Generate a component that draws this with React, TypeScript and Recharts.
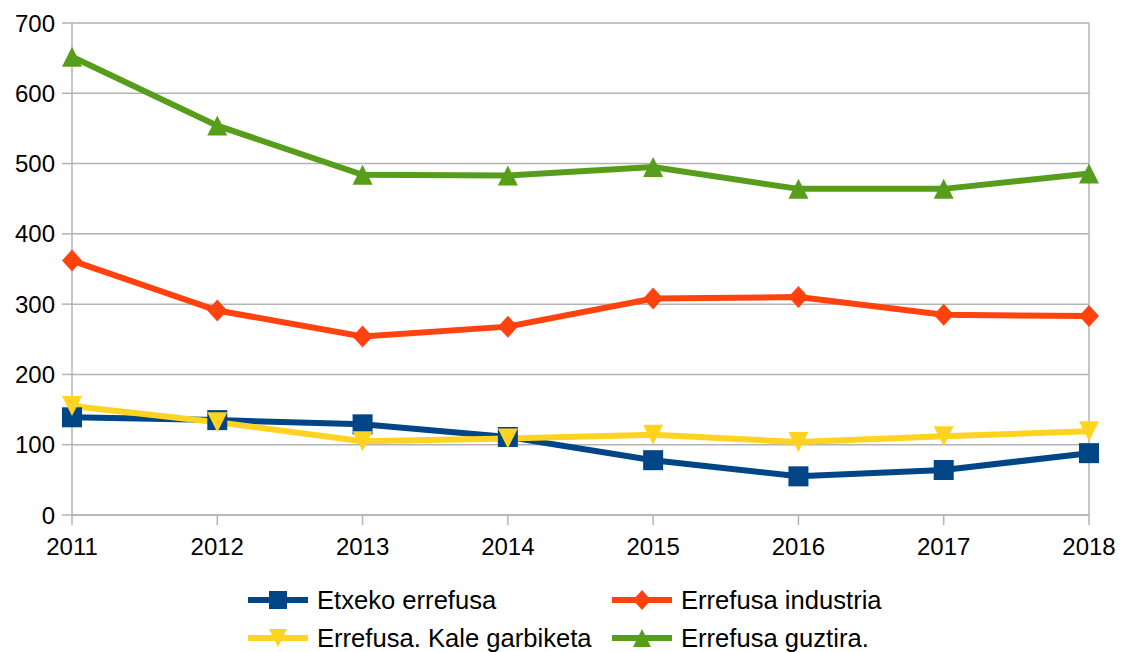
import React from 'react';
import { LineChart, Line, XAxis, YAxis, CartesianGrid, Legend, ReferenceLine } from 'recharts';

const years = ['2011', '2012', '2013', '2014', '2015', '2016', '2017', '2018'];
const etxeko = [139, 135, 129, 111, 78, 55, 64, 88];
const industria = [362, 291, 254, 268, 308, 310, 285, 283];
const kale = [155, 132, 105, 109, 114, 104, 112, 119];
const guztira = [652, 554, 484, 483, 495, 464, 464, 486];
const yTicks = [0, 100, 200, 300, 400, 500, 600, 700];

const data = years.map((year, i) => ({
  year,
  etxeko: etxeko[i],
  industria: industria[i],
  kale: kale[i],
  guztira: guztira[i],
}));

const FONT = '"Liberation Sans", Arial, sans-serif';
const GRID = '#b3b3b3';

type Shape = 'square' | 'diamond' | 'down' | 'up';

const series: { key: string; name: string; color: string; shape: Shape }[] = [
  { key: 'etxeko', name: 'Etxeko errefusa', color: '#004586', shape: 'square' },
  { key: 'industria', name: 'Errefusa industria', color: '#ff420e', shape: 'diamond' },
  { key: 'kale', name: 'Errefusa. Kale garbiketa', color: '#ffd320', shape: 'down' },
  { key: 'guztira', name: 'Errefusa guztira.', color: '#579d1c', shape: 'up' },
];

function marker(shape: Shape, cx: number, cy: number, color: string, s: number) {
  const h = s / 2;
  if (shape === 'square') return <rect x={cx - h} y={cy - h} width={s} height={s} fill={color} />;
  if (shape === 'diamond')
    return <polygon points={`${cx},${cy - h - 1} ${cx + h},${cy} ${cx},${cy + h + 1} ${cx - h},${cy}`} fill={color} />;
  if (shape === 'down')
    return <polygon points={`${cx - h},${cy - h} ${cx + h},${cy - h} ${cx},${cy + h}`} fill={color} />;
  return <polygon points={`${cx - h},${cy + h} ${cx + h},${cy + h} ${cx},${cy - h}`} fill={color} />;
}

function makeDot(shape: Shape, color: string) {
  return (props: any) => {
    const { cx, cy, index } = props;
    if (cx == null || cy == null) return <g key={index} />;
    return <g key={`${shape}-${index}`}>{marker(shape, cx, cy, color, 20)}</g>;
  };
}

function LegendBox() {
  const pos = [
    { x: 248, y: 40 },
    { x: 612, y: 40 },
    { x: 248, y: 78 },
    { x: 612, y: 78 },
  ];
  return (
    <div style={{ position: 'relative', width: 1125, height: 92, fontFamily: FONT, fontSize: 25.6 }}>
      {series.map((s, i) => (
        <div
          key={s.key}
          style={{ position: 'absolute', left: pos[i].x, top: pos[i].y - 15, height: 30, display: 'flex', alignItems: 'center' }}
        >
          <svg width={60} height={30}>
            <line x1={0} y1={15} x2={60} y2={15} stroke={s.color} strokeWidth={6} />
            {marker(s.shape, 30, 15, s.color, 18)}
          </svg>
          <span style={{ marginLeft: 9, color: '#000', whiteSpace: 'nowrap' }}>{s.name}</span>
        </div>
      ))}
    </div>
  );
}

export default function App() {
  return (
    <div style={{ position: 'absolute', left: 0, top: 0, width: 1125, height: 652, background: '#fff' }}>
      <LineChart width={1125} height={652} data={data} margin={{ top: 23, right: 36, left: 0, bottom: 0 }}>
        <CartesianGrid vertical={false} stroke={GRID} strokeWidth={1.5} />
        <XAxis
          dataKey="year"
          height={45}
          tickSize={10}
          tickMargin={13}
          stroke={GRID}
          strokeWidth={1.5}
          tick={{ fill: '#000', fontSize: 24, fontFamily: FONT }}
          interval={0}
        />
        <YAxis
          width={72}
          domain={[0, 700]}
          ticks={yTicks}
          tickSize={10}
          tickMargin={7}
          stroke={GRID}
          strokeWidth={1.5}
          tick={{ fill: '#000', fontSize: 24, fontFamily: FONT }}
          interval={0}
        />
        <ReferenceLine x="2018" stroke={GRID} strokeWidth={1.5} />
        <Legend verticalAlign="bottom" wrapperStyle={{ left: 0, width: 1125 }} content={() => <LegendBox />} />
        {series.map(s => (
          <Line
            key={s.key}
            dataKey={s.key}
            name={s.name}
            type="linear"
            stroke={s.color}
            strokeWidth={6}
            dot={makeDot(s.shape, s.color)}
            activeDot={false}
            isAnimationActive={false}
          />
        ))}
      </LineChart>
    </div>
  );
}
